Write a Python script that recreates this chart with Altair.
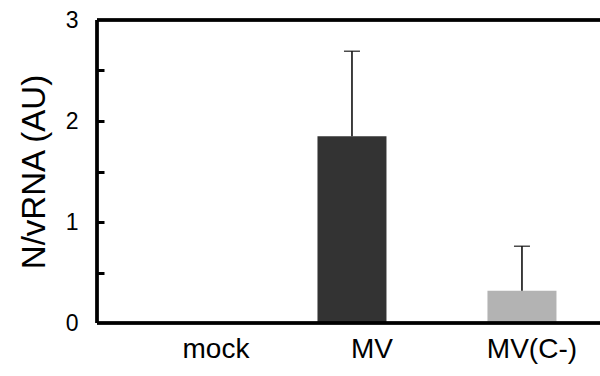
import altair as alt
import pandas as pd

# Relative N / vRNA levels per condition (mean and upper error)
categories = ["mock", "MV", "MV(C-)"]
means = [0.0, 1.85, 0.32]
errors = [0.0, 0.84, 0.44]
bar_colors = ["#333333", "#333333", "#b3b3b3"]

df = pd.DataFrame({
    "group": categories,
    "mean": means,
    "err": errors,
    "color": bar_colors,
})
df["upper"] = df["mean"] + df["err"]

FONT = "Liberation Sans"

x_scale = alt.Scale(domain=categories, paddingInner=0.594, paddingOuter=0.2765, align=0.537)
y_scale = alt.Scale(domain=[0, 3], nice=False, zero=True)

# category labels sit a little right of their bars
label_shift = {
    "condition": [
        {"test": "datum.value == 'mock'", "value": 34},
        {"test": "datum.value == 'MV'", "value": 20},
    ],
    "value": 10,
}

bars = alt.Chart(df).mark_bar(size=69).encode(
    x=alt.X(
        "group:N",
        scale=x_scale,
        sort=categories,
        title=None,
        axis=alt.Axis(
            ticks=False, labelAngle=0, labelFont=FONT, labelFontSize=28,
            labelColor="black", labelPadding=12, labelOffset=label_shift,
        ),
    ),
    y=alt.Y(
        "mean:Q",
        scale=y_scale,
        title="N/vRNA (AU)",
        axis=alt.Axis(
            values=[0, 1, 2, 3], ticks=False, grid=False,
            labelFont=FONT, labelFontSize=23, labelColor="black", labelPadding=19,
            titleFont=FONT, titleFontSize=33, titleFontWeight="normal",
            titleColor="black", titlePadding=14,
        ),
    ),
    color=alt.Color("color:N", scale=None),
)

# Upward error bars; this layer also carries the inward minor ticks
err_line = alt.Chart(df).transform_filter("datum.err > 0").mark_rule(
    color="black", strokeWidth=1.5
).encode(
    x=alt.X("group:N", scale=x_scale, sort=categories),
    y=alt.Y(
        "mean:Q",
        scale=y_scale,
        axis=alt.Axis(
            orient="right", offset=-503, values=[0.5, 1, 1.5, 2, 2.5],
            ticks=True, tickSize=7, tickWidth=3, tickColor="black",
            labels=False, domain=False, grid=False, title=None,
        ),
    ),
    y2="upper:Q",
)

err_cap = alt.Chart(df).transform_filter("datum.err > 0").mark_tick(
    color="black", size=16, thickness=1.5
).encode(
    x=alt.X("group:N", scale=x_scale, sort=categories),
    y=alt.Y("upper:Q", scale=y_scale, axis=None),
)

# frame: top edge and heavy left/bottom axis lines
top_line = alt.Chart(df).mark_rule(color="black", strokeWidth=3).encode(
    y=alt.datum(3, scale=y_scale, axis=None),
)
left_line = alt.Chart(df).mark_rule(color="black", strokeWidth=3).encode(
    x=alt.value(0),
)
bottom_line = alt.Chart(df).mark_rule(color="black", strokeWidth=3).encode(
    y=alt.datum(0, scale=y_scale, axis=None),
)

chart = alt.layer(bars, err_line, err_cap, top_line, left_line, bottom_line).resolve_axis(
    y="independent"
).properties(
    width=503,
    height=303,
    autosize=alt.AutoSizeParams(type="none"),
    padding={"left": 97, "top": 20, "right": 0, "bottom": 53},
).configure_view(
    stroke=None
).configure_axis(
    domainColor="black", domainWidth=3
).configure(
    background="white"
)

chart.save("out.html", embed_options={"renderer": "svg", "actions": False})
